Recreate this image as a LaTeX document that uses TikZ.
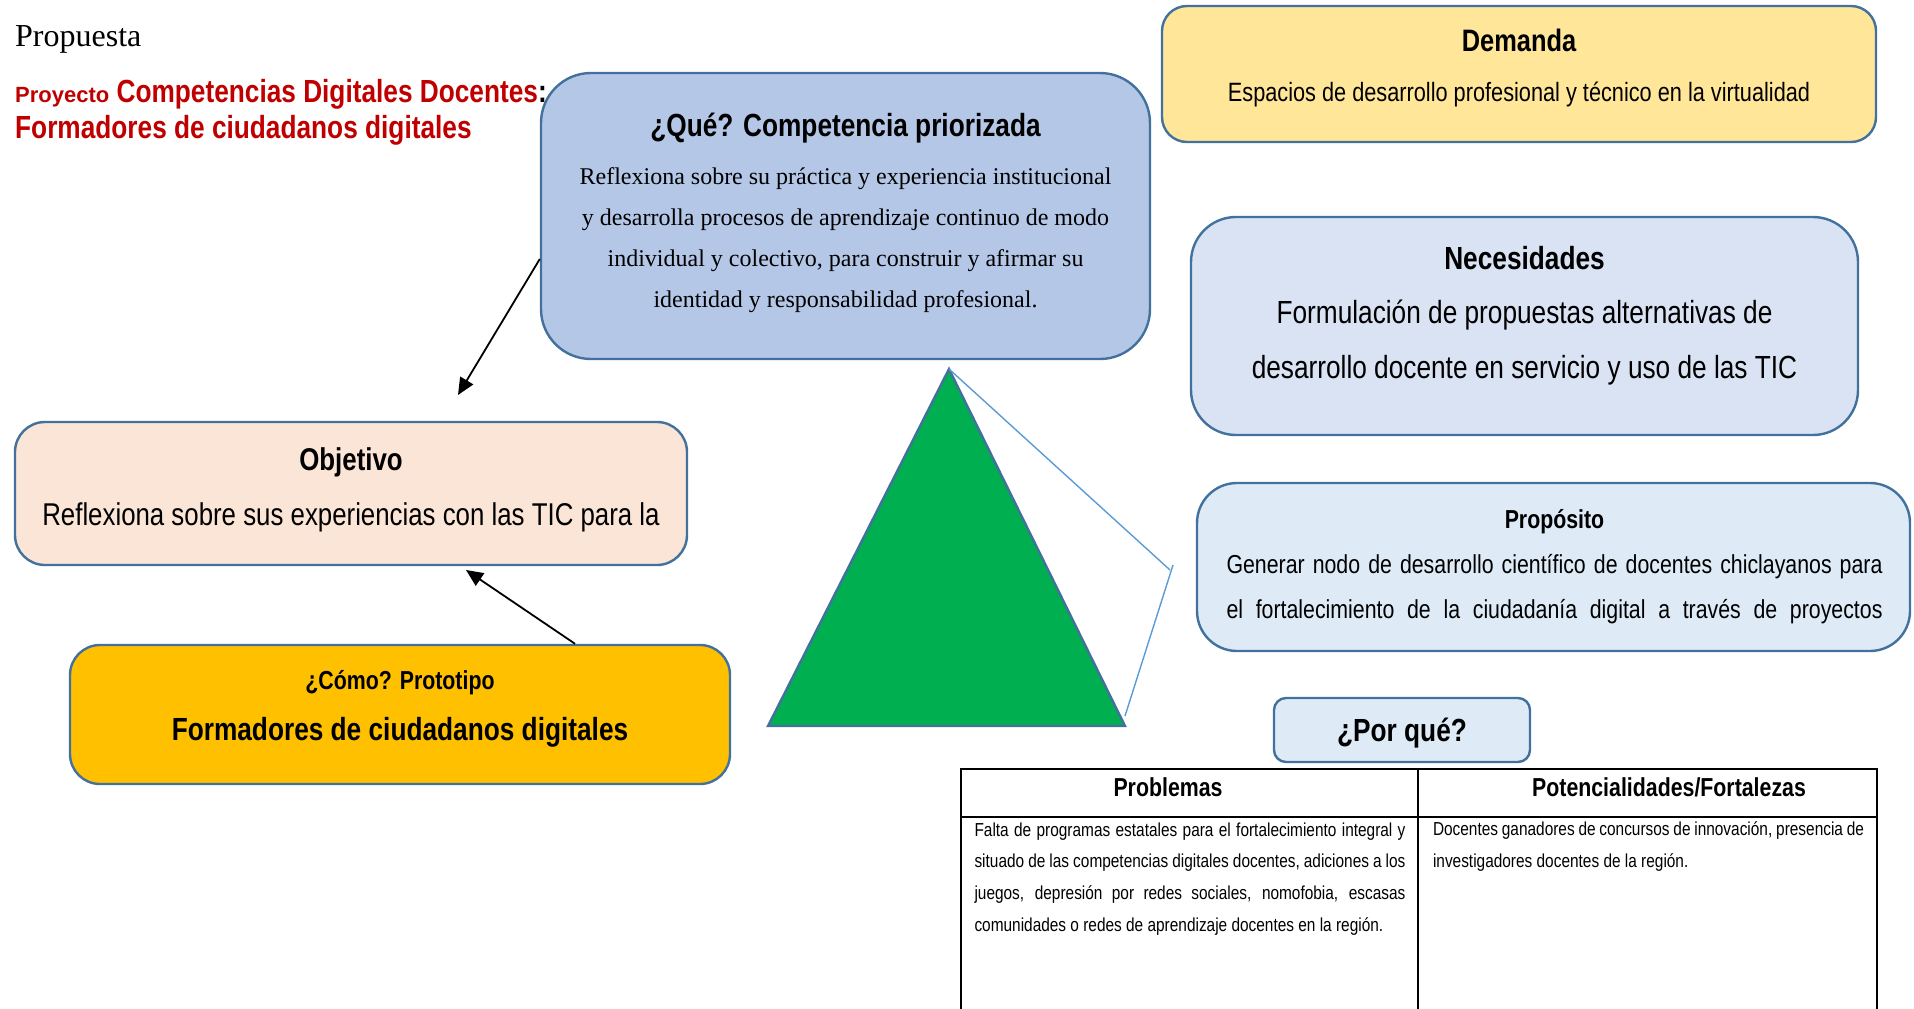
\documentclass[tikz,border=0pt]{standalone}
\usepackage{fontspec}
\setmainfont{Liberation Serif}
\newfontfamily\narrow[FakeStretch=0.82]{Liberation Sans}
\newfontfamily\arial{Liberation Sans}
\usetikzlibrary{arrows.meta}
\definecolor{boxline}{HTML}{41719C}
\definecolor{quefill}{HTML}{B4C7E7}
\definecolor{demfill}{HTML}{FFE699}
\definecolor{necfill}{HTML}{DAE3F3}
\definecolor{profill}{HTML}{DEEBF7}
\definecolor{objfill}{HTML}{FBE5D6}
\definecolor{comofill}{HTML}{FFC000}
\definecolor{trifill}{HTML}{00B050}
\definecolor{thinblue}{HTML}{5B9BD5}
\definecolor{titlered}{HTML}{C00000}
\newcommand\setfs[2]{\fontsize{#1}{#2}\selectfont}

\begin{document}
\begin{tikzpicture}[x=1pt,y=-1pt,
  box/.style={draw=boxline,line width=2.4pt,inner sep=0pt},
  head/.style={font=\narrow\bfseries\setfs{#1}{#1},anchor=base,inner sep=0pt},
  txt/.style={align=center,inner sep=0pt},
  arr/.style={-{Triangle[length=17pt,width=15pt]},draw=black,line width=1.8pt},
  tab/.style={draw=black,line width=2pt}]
\useasboundingbox (0,0) rectangle (1914,1009);

% boxes
\node[box,fill=demfill,rounded corners=25pt,minimum width=714pt,minimum height=136pt] (dem) at (1519,74) {};
\node[box,fill=quefill,rounded corners=50pt,minimum width=609pt,minimum height=286pt] (que) at (845.5,216) {};
\node[box,fill=necfill,rounded corners=45pt,minimum width=667pt,minimum height=218pt] (nec) at (1524.5,326) {};
\node[box,fill=profill,rounded corners=40pt,minimum width=713pt,minimum height=168pt] (pro) at (1553.5,567) {};
\node[box,fill=objfill,rounded corners=30pt,minimum width=672pt,minimum height=143pt] (obj) at (351,493.5) {};
\node[box,fill=comofill,rounded corners=30pt,minimum width=660pt,minimum height=139pt] (como) at (400,714.5) {};
\node[box,fill=profill,rounded corners=12pt,minimum width=256pt,minimum height=64pt] (por) at (1402,730) {};

% title
\node[anchor=base west,inner sep=0pt,font=\rmfamily\setfs{32}{38}] (propuesta) at (15,46) {Propuesta};
\node[anchor=base west,inner sep=0pt,font=\narrow\bfseries\setfs{32}{38},text=titlered] (tit1) at (15,102) {{\arial\setfs{22}{26}Proyecto} Competencias Digitales Docentes\textcolor{black}{:}};
\node[anchor=base west,inner sep=0pt,font=\narrow\bfseries\setfs{32}{38},text=titlered] (tit2) at (15,138) {Formadores de ciudadanos digitales};

% box texts
\node[head=32] (queT) at (845.5,136) {¿Qué? Competencia priorizada};
\node[txt,font=\rmfamily\setfs{24}{41}] (queB) at (845.5,238) {\strut Reflexiona sobre su práctica y experiencia institucional\\ y desarrolla procesos de aprendizaje continuo de modo\\ individual y colectivo, para construir y afirmar su\\ identidad y responsabilidad profesional.\strut};

\node[head=31] (demT) at (1519,51.5) {Demanda};
\node[txt,font=\narrow\setfs{26.5}{32},anchor=base] (demB) at (1519,101.5) {Espacios de desarrollo profesional y técnico en la virtualidad};

\node[head=32] (necT) at (1524.5,269) {Necesidades};
\node[txt,font=\narrow\setfs{32}{55}] (necB) at (1524.5,340) {\strut Formulación de propuestas alternativas de\\ desarrollo docente en servicio y uso de las TIC\strut};

\node[head=26] (proT) at (1554.5,528) {Propósito};
\node[font=\narrow\setfs{26}{45},text width=656pt,align=justify,inner sep=0pt] (proB) at (1554.5,587) {\strut Generar nodo de desarrollo científico de docentes chiclayanos para\linebreak el\hfill fortalecimiento\hfill de\hfill la\hfill ciudadanía\hfill digital\hfill a\hfill través\hfill de\hfill proyectos\strut};

\node[head=31.5] (objT) at (351,470) {Objetivo};
\node[txt,font=\narrow\setfs{31.5}{38},anchor=base] (objB) at (351,525) {Reflexiona sobre sus experiencias con las TIC para la};

\node[head=26] (comoT) at (400,689) {¿Cómo? Prototipo};
\node[head=32] (comoB) at (400,740) {Formadores de ciudadanos digitales};

\node[head=32] (porT) at (1402,741) {¿Por qué?};

% table
\draw[tab] (961,1015) -- (961,769) -- (1877,769) -- (1877,1015);
\draw[tab] (961,817) -- (1877,817);
\draw[tab] (1418,769) -- (1418,1015);
\node[head=26] (h1) at (1168,796) {Problemas};
\node[head=26] (h2) at (1669,796) {Potencialidades/Fortalezas};
\node[font=\narrow\setfs{18.8}{31.8},text width=431pt,align=justify,inner sep=0pt] (c1) at (1190,877.5) {\strut Falta de programas estatales para el fortalecimiento integral y\linebreak situado de las competencias digitales docentes, adiciones a los\linebreak juegos, depresión por redes sociales, nomofobia, escasas\linebreak comunidades o redes de aprendizaje docentes en la región.\strut};
\node[font=\narrow\setfs{18.8}{31.8},text width=431pt,align=justify,inner sep=0pt] (c2) at (1648.5,845.5) {\strut Docentes ganadores de concursos de innovación, presencia de\linebreak investigadores docentes de la región.\strut};

% triangle
\coordinate (tA) at (949,369);
\coordinate (tL) at (768,726);
\coordinate (tR) at (1125,726);
\filldraw[fill=trifill,draw=boxline,line width=2.4pt] (tA) -- (tL) -- (tR) -- cycle;
\coordinate (k1) at (1170,570);
\coordinate (k2) at (1173,565);
\coordinate (k3) at (1125,716);
\draw[thinblue,line width=1.4pt] (tA) -- (k1);
\draw[thinblue,line width=1.4pt] (k2) -- (k3);

% arrows
\coordinate (objUp) at (458,395);
\coordinate (objDn) at (466,570);
\draw[arr] (que.188) -- (objUp);
\draw[arr] (como.22) -- (objDn);
\end{tikzpicture}
\end{document}
